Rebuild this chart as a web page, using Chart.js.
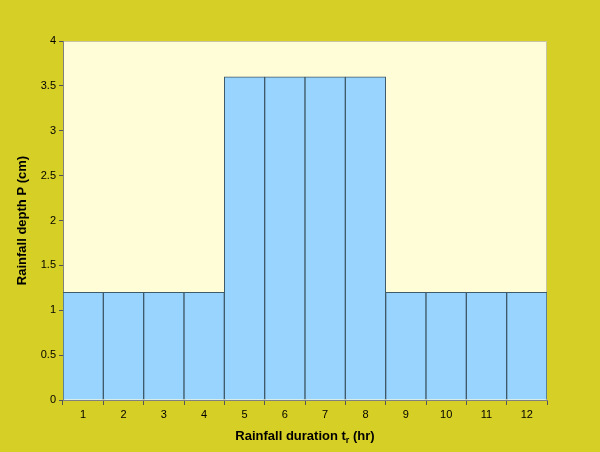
<!DOCTYPE html>
<html>
<head>
<meta charset="utf-8">
<script src="https://cdn.jsdelivr.net/npm/chart.js@4"></script>
<style>
  html, body { margin: 0; padding: 0; background: #D6CF26; }
  #wrap { width: 600px; height: 452px; }
</style>
</head>
<body>
<div id="wrap"><canvas id="rain"></canvas></div>
<script>
// Rainfall hyetograph
var hours = ["1", "2", "3", "4", "5", "6", "7", "8", "9", "10", "11", "12"];
var depth = [1.2, 1.2, 1.2, 1.2, 3.6, 3.6, 3.6, 3.6, 1.2, 1.2, 1.2, 1.2];
var yTicks = [0, 0.5, 1, 1.5, 2, 2.5, 3, 3.5, 4];

// plot area fill + thin frame
var plotBg = {
    id: 'plotBg',
    beforeDraw: function(chart) {
        var c = chart.ctx, a = chart.chartArea;
        c.save();
        c.fillStyle = '#FFFCD8';
        c.fillRect(a.left, a.top, a.right - a.left, a.bottom - a.top);
        c.strokeStyle = '#c9c4a4';
        c.lineWidth = 1;
        c.beginPath();
        c.moveTo(a.left, a.top + 0.5);
        c.lineTo(a.right - 0.5, a.top + 0.5);
        c.lineTo(a.right - 0.5, a.bottom);
        c.stroke();
        c.restore();
    }
};

// x title with subscript r
var xTitle = {
    id: 'xTitle',
    afterDraw: function(chart) {
        var c = chart.ctx, a = chart.chartArea;
        var y = 440;
        c.save();
        c.fillStyle = '#000';
        c.textBaseline = 'alphabetic';
        var big = 'bold 13px "Liberation Sans", Arial, sans-serif';
        var small = 'bold 9px "Liberation Sans", Arial, sans-serif';
        var p1 = 'Rainfall duration t', p2 = 'r', p3 = ' (hr)';
        c.font = big;
        var w1 = c.measureText(p1).width, w3 = c.measureText(p3).width;
        c.font = small;
        var w2 = c.measureText(p2).width;
        var x = (a.left + a.right) / 2 - (w1 + w2 + w3) / 2;
        c.font = big;
        c.fillText(p1, x, y);
        c.font = small;
        c.fillText(p2, x + w1, y + 3);
        c.font = big;
        c.fillText(p3, x + w1 + w2, y);
        c.restore();
    }
};

var ctx = document.getElementById("rain").getContext("2d");
var rainChart = new Chart(ctx, {
    type: 'bar',
    data: {
        labels: hours,
        datasets: [{
            data: depth,
            backgroundColor: '#99D4FF',
            borderColor: '#3f5a68',
            borderWidth: 1,
            barPercentage: 1,
            categoryPercentage: 1
        }]
    },
    options: {
        responsive: true,
        maintainAspectRatio: false,
        animation: false,
        layout: {
            padding: { left: 0, top: 41, right: 53, bottom: 0 }
        },
        plugins: {
            legend: { display: false },
            tooltip: { enabled: false }
        },
        scales: {
            x: {
                offset: true,
                grid: {
                    offset: true,
                    drawOnChartArea: false,
                    tickLength: 5,
                    color: '#555'
                },
                border: { color: '#808080', width: 1 },
                ticks: {
                    color: '#000',
                    padding: 3,
                    font: { family: '"Liberation Sans", Arial, sans-serif', size: 11 }
                },
                afterFit: function(scale) { scale.height = 52; }
            },
            y: {
                min: 0,
                max: 4,
                afterBuildTicks: function(scale) {
                    scale.ticks = yTicks.map(function(v) { return { value: v }; });
                },
                grid: {
                    drawOnChartArea: false,
                    tickLength: 4,
                    color: '#555'
                },
                border: { color: '#808080', width: 1 },
                ticks: {
                    color: '#000',
                    padding: 3,
                    callback: function(v) { return String(v); },
                    font: { family: '"Liberation Sans", Arial, sans-serif', size: 11 }
                },
                title: {
                    display: true,
                    text: 'Rainfall depth P (cm)',
                    color: '#000',
                    padding: { top: 15, bottom: 4 },
                    font: { family: '"Liberation Sans", Arial, sans-serif', size: 13, weight: 'bold' }
                },
                afterFit: function(scale) { scale.width = 63; }
            }
        }
    },
    plugins: [plotBg, xTitle]
});
</script>
</body>
</html>
